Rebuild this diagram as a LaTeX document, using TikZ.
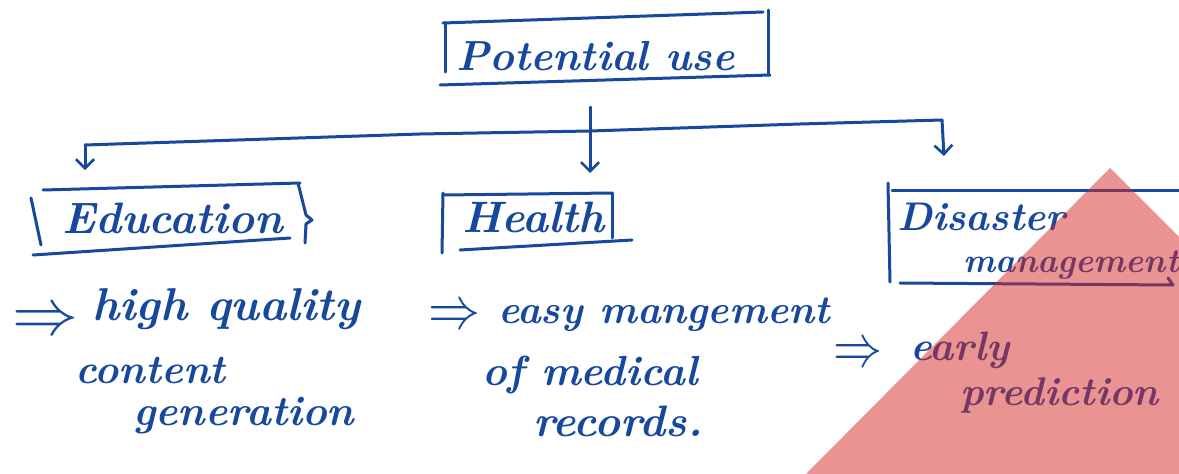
\documentclass[tikz,border=0pt]{standalone}
\usetikzlibrary{arrows.meta,calc}
\definecolor{ink}{RGB}{22,72,158}
\definecolor{stamp}{RGB}{214,40,40}
\begin{document}
\begin{tikzpicture}[x=1pt,y=-1pt,
  inkline/.style={draw=ink,line width=3pt,line cap=round,line join=round},
  tipline/.style={inkline,-{Straight Barb[length=9pt,width=18pt,line width=2.6pt]}},
  hand/.style={text=ink,inner sep=0pt,anchor=base west},
  impl/.style={text=ink,inner sep=0pt,anchor=west}]
\useasboundingbox (0,0) rectangle (1179,474);
\fill[white] (0,0) rectangle (1179,474);

% ---- root ----
\node[hand,font=\bfseries\itshape\fontsize{42}{46}\selectfont] (pu) at (456,70) {Potential use};
\draw[inkline] (445,23) -- (445,72);
\draw[inkline] (443,23) -- (763,12);
\draw[inkline] (768,10) -- (768,75);
\draw[inkline] (440,85) -- (770,75);

% ---- branch connectors ----
\coordinate (stem) at (590,107);
\coordinate (jn) at (590,131);
\coordinate (lend) at (85,145);
\coordinate (rend) at (942,120);
\coordinate (tipE) at (85,170);
\coordinate (tipH) at (590,173);
\coordinate (tipD) at (944,156);
\draw[inkline] (lend) -- (420,134) -- (jn) -- (800,124) -- (rend);
\draw[tipline] (stem) -- (tipH);
\draw[tipline] (lend) -- (tipE);
\draw[tipline] (rend) -- (tipD);

% ---- Education ----
\node[hand,font=\bfseries\itshape\fontsize{44}{48}\selectfont] (edu) at (62,233) {Education};
\draw[inkline] (43,190) -- (300,183);
\draw[inkline] (31,198) -- (41,245);
\draw[inkline] (33,255) -- (290,238);
\draw[inkline] (298,183) -- (306,215) -- (312,220) -- (306,224) -- (305,243);

% ---- Health ----
\node[hand,font=\bfseries\itshape\fontsize{44}{48}\selectfont] (hea) at (462,232) {Health};
\draw[inkline] (443,193) -- (442,253);
\draw[inkline] (443,195) -- (612,193);
\draw[inkline] (612,193) -- (612,238);
\draw[inkline] (460,250) -- (632,240);

% ---- Disaster management ----
\node[hand,font=\bfseries\itshape\fontsize{40}{44}\selectfont] (dis) at (897,230) {Disaster};
\node[hand,font=\bfseries\itshape\fontsize{34}{38}\selectfont] (dism) at (963,272) {management};
\draw[inkline] (888,183) -- (890,282);
\draw[inkline] (892,190) -- (1179,190);
\draw[inkline] (900,283) -- (1173,285) -- (1168,278);

% ---- Education details ----
\node[impl] (eimp) at (12,322) {\resizebox{66pt}{24pt}{$\Rightarrow$}};
\node[hand,font=\bfseries\itshape\fontsize{46}{50}\selectfont] (e1) at (92,320) {high quality};
\node[hand,font=\bfseries\itshape\fontsize{41}{45}\selectfont] (e2) at (75,383) {content};
\node[hand,font=\bfseries\itshape\fontsize{42}{46}\selectfont] (e3) at (133,425) {generation};

% ---- Health details ----
\node[impl] (himp) at (428,317) {\resizebox{52pt}{22pt}{$\Rightarrow$}};
\node[hand,font=\bfseries\itshape\fontsize{40}{44}\selectfont] (h1) at (498,323) {easy mangement};
\node[hand,font=\bfseries\itshape\fontsize{42}{46}\selectfont] (h2) at (482,385) {of medical};
\node[hand,font=\bfseries\itshape\fontsize{44}{48}\selectfont] (h3) at (533,436) {records.};

% ---- Disaster details ----
\node[impl] (dimp) at (833,355) {\resizebox{49pt}{22pt}{$\Rightarrow$}};
\node[hand,font=\bfseries\itshape\fontsize{41}{45}\selectfont] (d1) at (910,360) {early};
\node[hand,font=\bfseries\itshape\fontsize{40}{44}\selectfont] (d2) at (960,405) {prediction};

% ---- corner stamp ----
\fill[stamp,opacity=0.5] (1110,168) -- (1179,237) -- (1179,474) -- (806,474) -- cycle;
\end{tikzpicture}
\end{document}
